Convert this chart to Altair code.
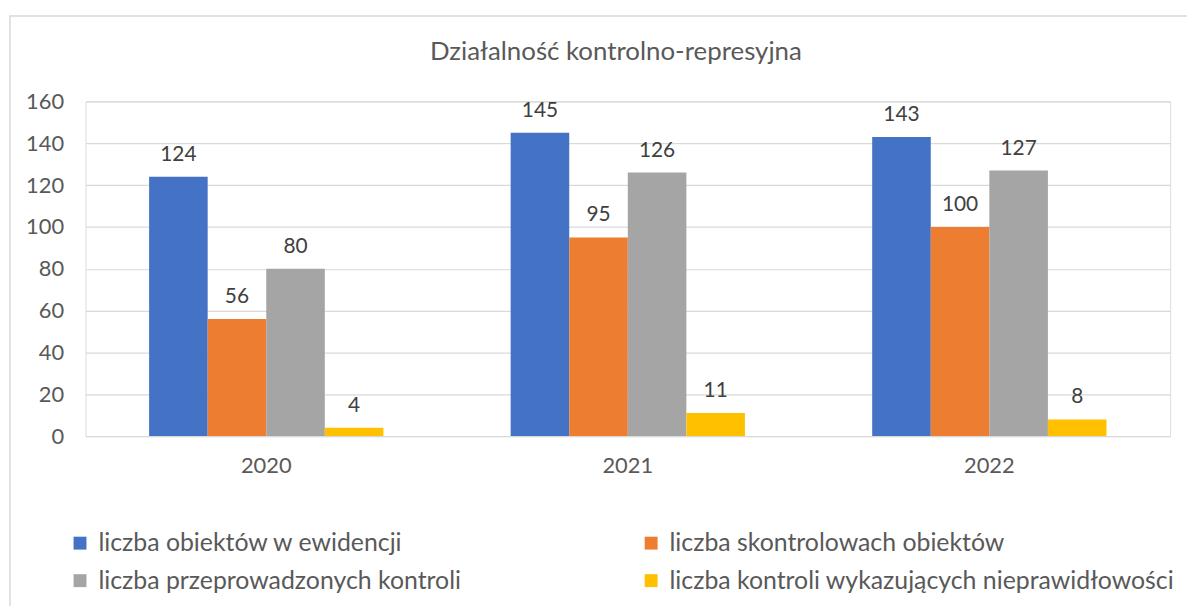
import altair as alt
import pandas as pd

years = ["2020", "2021", "2022"]
series = [
    "liczba obiektów w ewidencji",
    "liczba skontrolowach obiektów",
    "liczba przeprowadzonych kontroli",
    "liczba kontroli wykazujących nieprawidłowości",
]
colors = ["#4472C4", "#ED7D31", "#A5A5A5", "#FFC000"]
values = {
    "liczba obiektów w ewidencji": [124, 145, 143],
    "liczba skontrolowach obiektów": [56, 95, 100],
    "liczba przeprowadzonych kontroli": [80, 126, 127],
    "liczba kontroli wykazujących nieprawidłowości": [4, 11, 8],
}
title_text = "Działalność kontrolno-represyjna"

rows = []
for si, s in enumerate(series):
    for yi, y in enumerate(years):
        rows.append({"rok": y, "seria": s, "order": si, "wartosc": values[s][yi]})
df = pd.DataFrame(rows)

# legend is laid out column by column: reorder so rows read blue/orange, gray/yellow
legend_order = [series[0], series[2], series[1], series[3]]
legend_colors = [colors[0], colors[2], colors[1], colors[3]]

FONT = "Lato"
TXT = "#595959"

x = alt.X("rok:N", sort=years, title=None,
          scale=alt.Scale(paddingInner=0.352, paddingOuter=0.176),
          axis=alt.Axis(labelAngle=0, labelFontSize=22, labelColor=TXT, labelFont=FONT,
                        ticks=False, domain=False, labelPadding=20))
xoff = alt.XOffset("seria:N", sort=series, scale=alt.Scale(paddingInner=0, paddingOuter=0))
y = alt.Y("wartosc:Q", title=None,
          scale=alt.Scale(domain=[0, 160], nice=False),
          axis=alt.Axis(values=list(range(0, 161, 20)), labelFontSize=22, labelColor=TXT,
                        labelFont=FONT, ticks=False, domain=False, labelPadding=22,
                        gridColor="#D9D9D9", gridWidth=1.2))

base = alt.Chart(df)

bars = base.mark_bar().encode(
    x=x, xOffset=xoff, y=y,
    color=alt.Color("seria:N", sort=legend_order,
                    scale=alt.Scale(domain=legend_order, range=legend_colors),
                    legend=alt.Legend(title=None, orient="none", legendX=-18, legendY=432,
                                      columns=2, columnPadding=178, rowPadding=12,
                                      symbolType="square", symbolSize=169,
                                      symbolStrokeWidth=0, symbolOpacity=1,
                                      labelFontSize=25, labelFont=FONT, labelColor=TXT,
                                      labelOffset=6, labelLimit=800, padding=0)),
)

labels = base.mark_text(dy=-16, baseline="alphabetic", fontSize=21, font=FONT,
                        color="#404040").encode(
    x=x, xOffset=xoff, y=y, text=alt.Text("wartosc:Q"))

frame = alt.Chart(alt.Data(values=[{}])).mark_rect(
    fill=None, stroke="#D9D9D9", strokeWidth=1.5).encode(
    x=alt.value(-76), x2=alt.value(1125), y=alt.value(-86), y2=alt.value(530))

title = alt.Chart(alt.Data(values=[{"t": title_text}])).mark_text(
    fontSize=26, font=FONT, color=TXT, baseline="alphabetic", align="center").encode(
    text="t:N", x=alt.value(534), y=alt.value(-42))

chart = alt.layer(frame, bars, labels, title).properties(
    width=1092, height=337,
    autosize=alt.AutoSizeParams(type="none"),
    padding={"left": 78, "top": 92, "right": 17, "bottom": 169},
).configure_view(stroke=None).configure(background="white")

chart.save("out.html", embed_options={"renderer": "svg", "actions": False})
